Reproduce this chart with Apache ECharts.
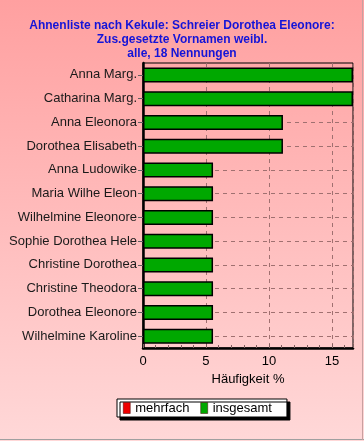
<!DOCTYPE html>
<html>
<head>
<meta charset="utf-8">
<script src="https://cdn.jsdelivr.net/npm/echarts@6/dist/echarts.min.js"></script>
<style>html,body{margin:0;padding:0;}#c{width:364px;height:441px;}</style>
</head>
<body>
<div id="c"></div>
<script>
const titleLines = ['Ahnenliste nach Kekule: Schreier Dorothea Eleonore:', 'Zus.gesetzte Vornamen weibl.', 'alle, 18 Nennungen'];
const categories = ['Anna Marg.', 'Catharina Marg.', 'Anna Eleonora', 'Dorothea Elisabeth', 'Anna Ludowike', 'Maria Wilhe Eleon', 'Wilhelmine Eleonore', 'Sophie Dorothea Hele', 'Christine Dorothea', 'Christine Theodora', 'Dorothea Eleonore', 'Wilhelmine Karoline'];
const mehrfach = [];
const insgesamt = [16.67, 16.67, 11.11, 11.11, 5.56, 5.56, 5.56, 5.56, 5.56, 5.56, 5.56, 5.56];
const xTicks = [0, 5, 10, 15];
const axisName = 'Häufigkeit %';
const seriesNames = ['mehrfach', 'insgesamt'];

const font = '"Liberation Sans", Arial, sans-serif';
const chart = echarts.init(document.getElementById('c'), null, {renderer: 'canvas'});
chart.setOption({
  animation: false,
  backgroundColor: {
    type: 'linear', x: 0, y: 0, x2: 0, y2: 1,
    colorStops: [{offset: 0, color: '#ffa0a0'}, {offset: 1, color: '#ffd8d8'}]
  },
  title: {
    text: titleLines.join('\n'),
    left: 'center', top: 19, padding: 0,
    textStyle: {fontFamily: font, fontSize: 12, fontWeight: 'bold', color: '#1414d8', lineHeight: 14}
  },
  legend: {
    data: seriesNames,
    left: 117, top: 399,
    orient: 'horizontal',
    icon: 'rect', itemWidth: 7, itemHeight: 11, itemGap: 11,
    padding: [2, 15, 2, 6],
    backgroundColor: '#ffffff', borderColor: '#000000', borderWidth: 1,
    shadowColor: '#000000', shadowBlur: 0, shadowOffsetX: 3, shadowOffsetY: 3,
    textStyle: {fontFamily: font, fontSize: 13, color: '#000', lineHeight: 14},
    itemStyle: {borderColor: '#400000', borderWidth: 0.5}
  },
  grid: {
    left: 143, right: 11, top: 63, bottom: 93,
    show: true, borderColor: '#000', borderWidth: 1, backgroundColor: 'transparent'
  },
  xAxis: {
    type: 'value', min: 0, max: 'dataMax', interval: 5,
    name: axisName, nameLocation: 'middle', nameGap: 23,
    nameTextStyle: {fontFamily: font, fontSize: 13, color: '#000'},
    axisLine: {show: true, lineStyle: {color: '#000', width: 2.5}},
    axisTick: {show: true, inside: true, length: 4, lineStyle: {color: '#806060'}},
    minorTick: {show: true, splitNumber: 5, length: 3, lineStyle: {color: '#806060'}},
    axisLabel: {fontFamily: font, fontSize: 13, color: '#000', margin: 7,
      formatter: v => xTicks.indexOf(v) >= 0 ? String(v) : ''},
    splitLine: {show: true, lineStyle: {color: '#a07070', type: [4, 4], width: 1}}
  },
  yAxis: {
    type: 'category', data: categories, inverse: true,
    axisLine: {show: true, lineStyle: {color: '#000', width: 2.5}},
    axisTick: {show: true, alignWithLabel: true, length: 5, lineStyle: {color: '#606060'}},
    axisLabel: {fontFamily: font, fontSize: 13, color: '#1a1a1a', margin: 6},
    splitLine: {show: true, alignWithLabel: true, lineStyle: {color: '#a07070', type: [4, 4], width: 1}}
  },
  series: [
    {name: seriesNames[0], type: 'bar', data: mehrfach, barWidth: 15, barGap: '-100%',
      itemStyle: {color: '#ee0000', borderColor: '#000', borderWidth: 1}, z: 3},
    {name: seriesNames[1], type: 'bar', data: insgesamt, barWidth: 15, barGap: '-100%',
      itemStyle: {color: '#00a800', borderColor: '#000', borderWidth: 1.5}, z: 2}
  ],
  graphic: [
    {type: 'line', shape: {x1: 0, y1: 439.5, x2: 364, y2: 439.5}, style: {stroke: '#a0a0a0', lineWidth: 1}, silent: true},
    {type: 'line', shape: {x1: 362.5, y1: 0, x2: 362.5, y2: 440}, style: {stroke: '#c8a0a0', lineWidth: 1}, silent: true}
  ]
});
</script>
</body>
</html>
